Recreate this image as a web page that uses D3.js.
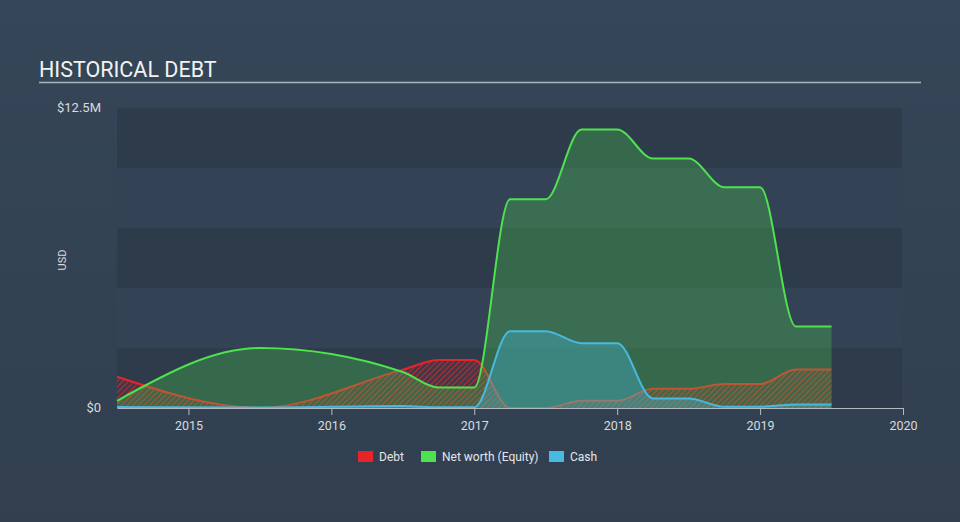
<!DOCTYPE html>
<html>
<head>
<meta charset="utf-8">
<script src="https://cdn.jsdelivr.net/npm/d3@7"></script>
<style>
  html, body { margin: 0; padding: 0; }
  body { width: 960px; height: 522px; overflow: hidden; font-family: Roboto, "Open Sans", sans-serif; }
</style>
</head>
<body>
<svg id="chart" width="960" height="522"></svg>
<script>
// ---- data ----
const years = [2014.5, 2015.5, 2016.5, 2016.75, 2017.0, 2017.25, 2017.5, 2017.75, 2018.0, 2018.25, 2018.5, 2018.75, 2019.0, 2019.25, 2019.5];
const debt = [1.3, 0.0, 1.6, 2.0, 2.0, 0.0, 0.0, 0.3, 0.3, 0.8, 0.8, 1.0, 1.0, 1.6, 1.6];
const netWorth = [0.3, 2.5, 1.5, 0.85, 0.85, 8.7, 8.7, 11.6, 11.6, 10.4, 10.4, 9.2, 9.2, 3.4, 3.4];
const cash = [0.04, 0.02, 0.08, 0.03, 0.03, 3.2, 3.2, 2.7, 2.7, 0.4, 0.4, 0.05, 0.05, 0.15, 0.15];
const xTicks = [2015, 2016, 2017, 2018, 2019, 2020];
const yTickLabels = ["$0", "$12.5M"];
const yTickValues = [0, 12.5];
const legendLabels = ["Debt", "Net worth (Equity)", "Cash"];

const svg = d3.select("#chart");
const W = 960, H = 522;
const defs = svg.append("defs");

const bg = defs.append("linearGradient").attr("id", "bg").attr("x1", 0).attr("y1", 0).attr("x2", 0).attr("y2", 1);
bg.append("stop").attr("offset", "0%").attr("stop-color", "#354658");
bg.append("stop").attr("offset", "100%").attr("stop-color", "#313f4f");
svg.append("rect").attr("width", W).attr("height", H).attr("fill", "url(#bg)");

const pat = defs.append("pattern").attr("id", "hatch").attr("patternUnits", "userSpaceOnUse")
  .attr("width", 4).attr("height", 4).attr("patternTransform", "rotate(45)");
pat.append("rect").attr("width", 4).attr("height", 4).attr("fill", "#e8232a").attr("opacity", 0.12);
pat.append("line").attr("x1", 0).attr("y1", 0).attr("x2", 0).attr("y2", 4)
  .attr("stroke", "#e8232a").attr("stroke-width", 2).attr("opacity", 0.75);

const x = d3.scaleLinear().domain([2014.5, 2020]).range([117, 903]);
const y = d3.scaleLinear().domain([0, 12.5]).range([408, 108]);

// bands
const bandEdges = [0, 2.5, 5, 7.5, 10, 12.5];
for (let i = 0; i < 5; i++) {
  svg.append("rect")
    .attr("x", 117).attr("width", 785)
    .attr("y", y(bandEdges[i + 1])).attr("height", y(bandEdges[i]) - y(bandEdges[i + 1]))
    .attr("fill", i % 2 === 0 ? "#2e3b4a" : "#334354").attr("opacity", 0.9);
}

// title
svg.append("text").attr("x", 39).attr("y", 77).text("HISTORICAL DEBT")
  .attr("fill", "#f2f2f2").attr("font-size", 21.5).attr("font-family", "Roboto, sans-serif");
svg.append("line").attr("x1", 39).attr("x2", 921).attr("y1", 82.5).attr("y2", 82.5)
  .attr("stroke", "#aeb4bb").attr("stroke-width", 1.5);

const curve = d3.curveMonotoneX;
const mk = arr => years.map((t, i) => ({ t, v: arr[i] }));
const area = d3.area().x(d => x(d.t)).y0(y(0)).y1(d => y(d.v)).curve(curve);
const line = d3.line().x(d => x(d.t)).y(d => y(d.v)).curve(curve);

// debt
svg.append("path").attr("d", area(mk(debt))).attr("fill", "url(#hatch)");
svg.append("path").attr("d", line(mk(debt))).attr("fill", "none").attr("stroke", "#e8232a").attr("stroke-width", 2);
// net worth
svg.append("path").attr("d", area(mk(netWorth))).attr("fill", "#4fe24f").attr("opacity", 0.27);
svg.append("path").attr("d", line(mk(netWorth))).attr("fill", "none").attr("stroke", "#4fe24f").attr("stroke-width", 2);
// cash
svg.append("path").attr("d", area(mk(cash))).attr("fill", "#48b9e0").attr("opacity", 0.35);
svg.append("path").attr("d", line(mk(cash))).attr("fill", "none").attr("stroke", "#48b9e0").attr("stroke-width", 2);

// x axis
const xAxis = svg.append("g").attr("transform", `translate(0,${y(0)})`)
  .call(d3.axisBottom(x).tickValues(xTicks).tickFormat(d3.format("d")).tickSizeInner(7).tickSizeOuter(0));
xAxis.select(".domain").attr("stroke", "#b4bac1").attr("stroke-width", 1.2);
xAxis.selectAll(".tick line").attr("stroke", "#b4bac1");
xAxis.selectAll(".tick text").attr("fill", "#d8dbdf").attr("font-size", 12.5).attr("dy", "0.95em")
  .attr("font-family", "Roboto, sans-serif");

// y labels
yTickValues.forEach((v, i) => {
  svg.append("text").attr("x", 101).attr("y", y(v) + 4).attr("text-anchor", "end")
    .attr("fill", "#d8dbdf").attr("font-size", 13).attr("font-family", "Roboto, sans-serif")
    .text(yTickLabels[i]);
});
svg.append("text").attr("transform", "translate(66,260) rotate(-90)").attr("text-anchor", "middle")
  .attr("fill", "#d8dbdf").attr("font-size", 11).attr("font-family", "Roboto, sans-serif").text("USD");

// legend
const legColors = ["#e8232a", "#4fe24f", "#48b9e0"];
const legX = [358, 421, 549];
legendLabels.forEach((l, i) => {
  svg.append("rect").attr("x", legX[i]).attr("y", 451).attr("width", 15).attr("height", 11).attr("fill", legColors[i]);
  svg.append("text").attr("x", legX[i] + 21).attr("y", 460.5).attr("fill", "#e4e6e9")
    .attr("font-size", 12).attr("font-family", "Roboto, sans-serif").text(l);
});
</script>
</body>
</html>
